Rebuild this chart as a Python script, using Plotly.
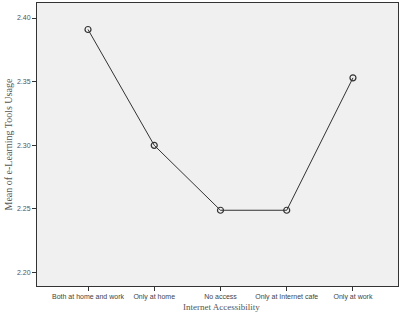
import plotly.graph_objects as go

categories = ["Both at home and work", "Only at home", "No access", "Only at Internet cafe", "Only at work"]
means = [2.391, 2.300, 2.249, 2.249, 2.353]
y_ticks = [2.20, 2.25, 2.30, 2.35, 2.40]

W, H = 403, 312
L, R, T, B = 37, 5, 3, 26

fig = go.Figure()
fig.add_trace(go.Scatter(
    x=list(range(len(categories))), y=means, mode="lines+markers",
    line=dict(color="#333333", width=1),
    marker=dict(symbol="circle-open", size=6, color="#333333", line=dict(width=1.2)),
    hoverinfo="skip", showlegend=False))

fig.update_layout(
    width=W, height=H, margin=dict(l=L, r=R, t=T, b=B),
    paper_bgcolor="white", plot_bgcolor="#f0f0f0",
    font=dict(family="Liberation Sans, Arial, sans-serif", size=7, color="#555555"),
)
fig.update_xaxes(
    range=[-0.77, 4.68], tickmode="array", tickvals=list(range(len(categories))),
    ticktext=categories, ticks="outside", ticklen=4, tickcolor="#333333",
    showgrid=False, zeroline=False, showline=True, linecolor="#333333", linewidth=1,
    mirror=True, tickfont=dict(size=7, color="#444444"))
fig.update_yaxes(
    range=[2.1895, 2.4118], tickmode="array", tickvals=y_ticks,
    ticktext=[f"{v:.2f}" for v in y_ticks], ticks="outside", ticklen=4, tickcolor="#333333",
    showgrid=False, zeroline=False, showline=True, linecolor="#333333", linewidth=1,
    mirror=True, tickfont=dict(size=7, color="#555555"))

fig.add_annotation(text="Mean of e-Learning Tools Usage", xref="paper", yref="paper",
                   x=(8 - L) / (W - L - R), y=0.5, textangle=-90, showarrow=False,
                   xanchor="center", yanchor="middle",
                   font=dict(family="Liberation Serif, Times New Roman, serif", size=10, color="#555555"))
fig.add_annotation(text="Internet Accessibility", xref="paper", yref="paper",
                   x=(221 - L) / (W - L - R), y=-(306.5 - (H - B)) / (H - T - B), showarrow=False,
                   xanchor="center", yanchor="middle",
                   font=dict(family="Liberation Serif, Times New Roman, serif", size=9, color="#555555"))

fig.write_html("out.html")
